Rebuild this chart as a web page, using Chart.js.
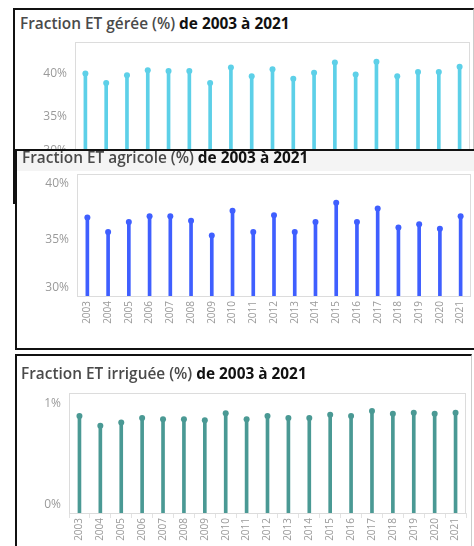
<!DOCTYPE html>
<html>
<head>
<meta charset="utf-8">
<script src="https://cdn.jsdelivr.net/npm/chart.js@4"></script>
<style>
body { margin: 0; width: 474px; height: 546px; overflow: hidden; background: #fff; position: relative; font-family: "Open Sans", sans-serif; }
.panel { position: absolute; box-sizing: border-box; background: #fff; }
.title { position: absolute; font-size: 15.4px; font-weight: 700; color: #111; white-space: nowrap; line-height: 18px; }
.title span { color: #4a4a4a; font-weight: 600; }
.band { position: absolute; background: #f4f4f4; }
canvas { position: absolute; }
</style>
</head>
<body>
<div class="panel" style="left:13px;top:8px;width:461px;height:196px;border-top:2px solid #111;border-left:2px solid #111;border-right:1px solid #ccc"></div>
<div class="title" style="left:20px;top:15px"><span>Fraction ET gérée (%)</span> de 2003 à 2021</div>
<canvas id="c1" width="454" height="161" style="left:20px;top:36px"></canvas>

<div class="panel" style="left:15px;top:149px;width:470px;height:201px;border:2px solid #111"></div>
<div class="band" style="left:17px;top:151px;width:457px;height:20px"></div>
<div class="title" style="left:22px;top:149px"><span>Fraction ET agricole (%)</span> de 2003 à 2021</div>
<canvas id="c2" width="454" height="164" style="left:20px;top:170px"></canvas>

<div class="panel" style="left:15px;top:354px;width:457px;height:200px;border-top:2px solid #111;border-left:2px solid #111;border-right:1px solid #ccc"></div>
<div class="title" style="left:21px;top:365px"><span>Fraction ET irriguée (%)</span> de 2003 à 2021</div>
<canvas id="c3" width="454" height="163" style="left:20px;top:388px"></canvas>

<script>
const years = ['2003', '2004', '2005', '2006', '2007', '2008', '2009', '2010', '2011', '2012',
               '2013', '2014', '2015', '2016', '2017', '2018', '2019', '2020', '2021'];
const gereeValues = [40.0, 38.9, 39.8, 40.4, 40.3, 40.3, 38.9, 40.7, 39.7, 40.5,
                     39.4, 40.1, 41.3, 39.9, 41.4, 39.7, 40.2, 40.2, 40.8];
const agricoleValues = [37.0, 35.7, 36.6, 37.1, 37.1, 36.7, 35.4, 37.6, 35.7, 37.2,
                        35.7, 36.6, 38.3, 36.6, 37.8, 36.1, 36.4, 36.0, 37.1];
const irrigueeValues = [0.89, 0.80, 0.83, 0.87, 0.86, 0.86, 0.85, 0.915, 0.86, 0.89,
                        0.87, 0.87, 0.90, 0.89, 0.935, 0.91, 0.92, 0.91, 0.918];
const gereeTicks = [30, 35, 40];
const agricoleTicks = [30, 35, 40];
const irrigueeTicks = [0, 1];

// plot frame + y labels (bottom label kept inside the plot like the original)
const frame = {
    id: 'frame',
    beforeDatasetsDraw(chart, args, opts) {
        const { ctx, chartArea: a, scales: { y } } = chart;
        ctx.save();
        ctx.strokeStyle = '#dcdcdc';
        ctx.lineWidth = 1;
        ctx.strokeRect(a.left + 0.5, a.top + 0.5, a.right - a.left - 1, a.bottom - a.top);
        ctx.font = '12px "Open Sans"';
        ctx.fillStyle = '#9a9a9a';
        ctx.textAlign = 'right';
        ctx.textBaseline = 'middle';
        opts.ticks.forEach(v => {
            const py = Math.min(y.getPixelForValue(v), a.bottom - 8);
            ctx.fillText(v + '%', a.left - 8, py);
        });
        ctx.restore();
    }
};

function lollipop(id, values, color, yMin, yMax, ticks, pad, dividerColor) {
    return new Chart(document.getElementById(id), {
        type: 'bar',
        data: {
            labels: years,
            datasets: [
                { type: 'line', data: values, showLine: false, pointRadius: 3, pointHoverRadius: 3,
                  pointBackgroundColor: color, pointBorderWidth: 0, order: 0 },
                { data: values, backgroundColor: color, barThickness: 3, order: 1 }
            ]
        },
        options: {
            responsive: false,
            animation: false,
            devicePixelRatio: 1,
            layout: { padding: pad },
            plugins: { legend: { display: false }, tooltip: { enabled: false }, frame: { ticks } },
            scales: {
                x: {
                    grid: { drawOnChartArea: false, tickLength: 5, color: dividerColor },
                    border: { display: false },
                    ticks: { minRotation: 90, maxRotation: 90, color: '#9a9a9a', padding: 0,
                             font: { family: 'Open Sans', size: 10 } },
                    afterFit: s => { s.height = 28; }
                },
                y: { display: false, min: yMin, max: yMax }
            }
        },
        plugins: [frame]
    });
}

lollipop('c1', gereeValues, '#5dd0e8', 30, 43.7, gereeTicks, { left: 55, top: 6, right: 4, bottom: 10 }, 'rgba(0,0,0,0)');
lollipop('c2', agricoleValues, '#3f5fff', 30, 40.87, agricoleTicks, { left: 57, top: 4, right: 2, bottom: 10 }, 'rgba(0,0,0,0)');
lollipop('c3', irrigueeValues, '#4a9994', 0, 1.1, irrigueeTicks, { left: 49, top: 5, right: 8, bottom: 10 }, '#e2e2e2');
</script>
</body>
</html>
